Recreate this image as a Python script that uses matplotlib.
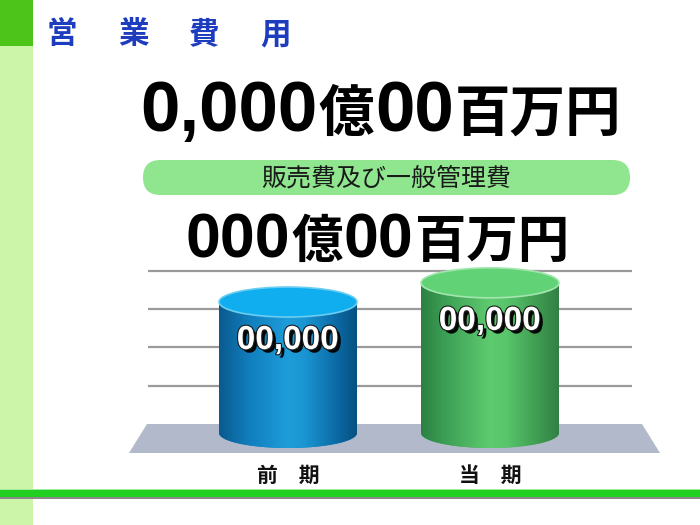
import numpy as np
import matplotlib
matplotlib.use('Agg')
import matplotlib.pyplot as plt
import matplotlib.patheffects as pe
from matplotlib.patches import Rectangle, Ellipse, PathPatch, FancyBboxPatch, Polygon
from matplotlib.path import Path
from matplotlib.colors import LinearSegmentedColormap

plt.rcParams['font.family'] = ['Noto Sans CJK JP', 'DejaVu Sans']

# ---- data ----
title = '営業費用'
total_parts = ['0,000', '億', '00', '百万円']
sga_label = '販売費及び一般管理費'
sga_parts = ['000', '億', '00', '百万円']
categories = ['前　期', '当　期']
values = [34200, 39200]
value_labels = ['00,000', '00,000']
grid_ticks = [10000, 20000, 30000, 40000]

LATIN = ['Liberation Sans', 'DejaVu Sans']
CJK = ['Noto Sans CJK JP', 'DejaVu Sans']

fig = plt.figure(figsize=(7, 5.25), dpi=100)
bg = fig.add_axes([0, 0, 1, 1])
bg.set_xlim(0, 700)
bg.set_ylim(525, 0)
bg.axis('off')

# left strip + corner block
bg.add_patch(Rectangle((0, 0), 33, 525, color='#CDF5A9', lw=0))
bg.add_patch(Rectangle((0, 0), 33, 46, color='#4CC41A', lw=0))
# bottom green rule
bg.add_patch(Rectangle((0, 489), 700, 8, color='#21CF21', lw=0))
bg.add_patch(Rectangle((0, 488.5), 700, 1.8, color='#A0EBA0', lw=0))
bg.add_patch(Rectangle((0, 497), 700, 2, color='#8A8A8A', lw=0))

# title, spaced out
for i, ch in enumerate(title):
    bg.text(47 + i * 71, 43, ch, fontsize=22, weight='bold', color='#1E3CBE',
            ha='left', va='baseline', family=CJK)


def draw_runs(x, y, parts, sizes):
    r = fig.canvas.get_renderer()
    for s, size in zip(parts, sizes):
        fam = LATIN if s[0].isdigit() else CJK
        t = bg.text(x, y, s, fontsize=size, weight='bold', color='black',
                    ha='left', va='baseline', family=fam)
        bb = t.get_window_extent(r)
        x = bg.transData.inverted().transform((bb.x1, bb.y0))[0] + 1


draw_runs(140, 131, total_parts, [51, 40, 51, 40])

bg.add_patch(FancyBboxPatch((143, 160), 487, 35,
                            boxstyle='round,pad=0,rounding_size=17.5',
                            fc='#8FE68F', ec='none'))
bg.text(386, 186, sga_label, fontsize=18, ha='center', va='baseline',
        color='#1A1A1A', family=CJK)

draw_runs(186, 257, sga_parts, [45, 37, 45, 37])

# ---- chart ----
PX_CAT = 202.0          # pixels between categories
PX_UNIT = 38.3 / 10000  # pixels per value unit
cx0, base_px = 288, 433
a_l, a_r, a_t, a_b = 120, 680, 255, 495
ax = fig.add_axes([a_l / 700, (525 - a_b) / 525, (a_r - a_l) / 700, (a_b - a_t) / 525])
ax.patch.set_visible(False)


def py(px):
    return px / PX_UNIT


def pxx(px):
    return px / PX_CAT


n = len(values)
back = py(9)
for t in grid_ticks:
    ax.plot([pxx(-140), n - 1 + pxx(142)], [t + back, t + back],
            color='#9A9A9A', lw=1.6, zorder=1, solid_capstyle='butt')

ax.add_patch(Polygon([(pxx(-141), back), (n - 1 + pxx(152), back),
                      (n - 1 + pxx(170), -py(20)), (pxx(-159), -py(20))],
                     closed=True, fc='#B1B9CB', ec='none', zorder=2))

cmaps = [
    LinearSegmentedColormap.from_list('blue', [(0, '#0A5A8E'), (0.22, '#117FBE'), (0.5, '#1E9DDA'),
                                               (0.62, '#1A95D1'), (0.85, '#0B69A5'), (1, '#06507E')]),
    LinearSegmentedColormap.from_list('green', [(0, '#2C8142'), (0.2, '#3FA357'), (0.5, '#5ECB70'),
                                                (0.62, '#58C46B'), (0.85, '#3E9A50'), (1, '#337E43')]),
]
mids = ['#1488C8', '#4DB862']
tops = ['#10AEEE', '#62D277']
rims = ['#6ACDF2', '#A2E6AE']

w = pxx(69)
h = py(15)
theta = np.linspace(np.pi, 2 * np.pi, 80)
grad = np.linspace(0, 1, 256)[None, :]
for i, v in enumerate(values):
    verts = [(i - w, v)] + list(zip(i + w * np.cos(theta), h * np.sin(theta))) + [(i + w, v), (i - w, v)]
    body = PathPatch(Path(verts, closed=True), fc=mids[i], ec='none', zorder=3)
    ax.add_patch(body)
    im = ax.imshow(grad, cmap=cmaps[i], extent=(i - w, i + w, -h, v), aspect='auto',
                   interpolation='bilinear', zorder=3.5)
    im.set_clip_path(body)
    ax.add_patch(Ellipse((i, v), 2 * w, 2 * h, fc=tops[i], ec=rims[i], lw=1.2, zorder=4))
    ax.text(i, v - py(47), value_labels[i], fontsize=24, weight='bold', color='white',
            ha='center', va='baseline', family=LATIN, zorder=5,
            path_effects=[pe.SimplePatchShadow(offset=(2.5, -2.5), shadow_rgbFace='black', alpha=0.95),
                          pe.Stroke(linewidth=1.6, foreground='#1A1A1A'), pe.Normal()])
    ax.text(i, -py(48.5), categories[i], fontsize=15, weight='bold', color='#111111',
            ha='center', va='baseline', family=CJK, zorder=5)

ax.set_xlim(-(cx0 - a_l) / PX_CAT, (a_r - cx0) / PX_CAT)
ax.set_ylim((base_px - a_b) / PX_UNIT, (base_px - a_t) / PX_UNIT)
ax.axis('off')

fig.savefig('out.png', dpi=100)
